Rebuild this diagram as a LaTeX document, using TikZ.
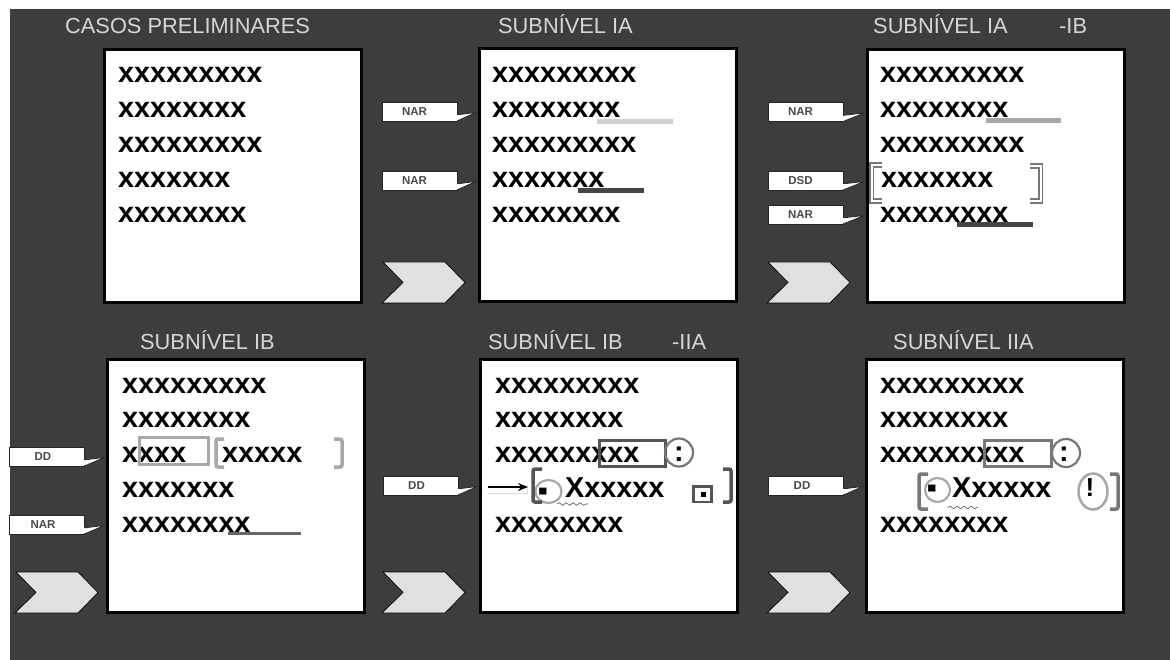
\documentclass[tikz,border=0pt]{standalone}
\usepackage{fontspec}
\setmainfont{Liberation Sans}
\usetikzlibrary{calc,decorations.pathmorphing,arrows.meta}
\definecolor{bgc}{HTML}{3D3D3D}
\definecolor{ttlc}{HTML}{D6D6D6}
\definecolor{cbord}{HTML}{262626}
\definecolor{calt}{HTML}{4A4A4A}
\definecolor{chevfill}{HTML}{E0E0E0}
\definecolor{ulA}{HTML}{D0D0D0}
\definecolor{ulB}{HTML}{A8A8A8}
\definecolor{ulD}{HTML}{454545}
\definecolor{ulM}{HTML}{666666}
\definecolor{brL}{HTML}{A8A8A8}
\definecolor{brM}{HTML}{777777}
\definecolor{brD}{HTML}{555555}
\begin{document}
\begin{tikzpicture}[x=1pt,y=-1pt,
  box/.style={draw=black, line width=3pt, fill=white, minimum width=257pt, minimum height=253pt, inner sep=0pt},
  ttl/.style={anchor=base west, inner sep=0pt, text=ttlc, font=\fontsize{21.8}{24}\selectfont},
  xt/.style={anchor=base west, inner sep=0pt, font=\bfseries\fontsize{28.8}{30}\selectfont},
  sym/.style={anchor=base, inner sep=0pt, font=\bfseries\fontsize{28.8}{30}\selectfont},
  callout/.style={draw=cbord, line width=0.8pt, fill=white, minimum width=75pt, minimum height=19pt, inner sep=0pt, text=calt, font=\bfseries\fontsize{11.5}{12}\selectfont},
  wedge/.style={draw=cbord, line width=0.8pt, fill=white, line join=miter},
  ul/.style={line width=5pt},
  brk/.style={line width=3.5pt, rounded corners=2pt},
  dbrk/.style={draw=brM, line width=1.6pt, double=white, double distance=2pt},
  chev/.pic={\draw[fill=chevfill, line width=0.7pt] (0,0) -- (62,0) -- (82,20.5) -- (62,41) -- (-1,41) -- (20,20.5) -- cycle;}
]
% canvas
\useasboundingbox (0,0) rectangle (1170,660);
\fill[white] (0,0) rectangle (1170,660);
\fill[bgc] (10,9) rectangle (1170,660);

% boxes
\node[box] (b1) at (233,176) {};
\node[box] (b2) at (607.5,175.5) {};
\node[box] (b3) at (996,176) {};
\node[box] (b4) at (236,485.5) {};
\node[box] (b5) at (609,485.5) {};
\node[box] (b6) at (994.5,486) {};

% titles
\node[ttl] (t1) at (65,34) {CASOS PRELIMINARES};
\node[ttl] (t2) at (498,34) {SUBNÍVEL IA};
\node[ttl] (t3) at (873,34) {SUBNÍVEL IA};
\node[ttl] (t3b) at (1059,34) {-IB};
\node[ttl] (t4) at (140,349) {SUBNÍVEL IB};
\node[ttl] (t5) at (488,349) {SUBNÍVEL IB};
\node[ttl] (t5b) at (672,349) {-IIA};
\node[ttl] (t6) at (893,349) {SUBNÍVEL IIA};

% panel 1
\node[xt] (p1r1) at (118,83) {xxxxxxxxx};
\node[xt] (p1r2) at (118,118) {xxxxxxxx};
\node[xt] (p1r3) at (118,153) {xxxxxxxxx};
\node[xt] (p1r4) at (118,188) {xxxxxxx};
\node[xt] (p1r5) at (118,223) {xxxxxxxx};

% panel 2
\node[xt] (p2r1) at (492,83) {xxxxxxxxx};
\node[xt] (p2r2) at (492,118) {xxxxxxxx};
\node[xt] (p2r3) at (492,153) {xxxxxxxxx};
\node[xt] (p2r4) at (492,188) {xxxxxxx};
\node[xt] (p2r5) at (492,223) {xxxxxxxx};
\draw[ul, ulA] (597,121.5) -- (673,121.5);
\draw[ul, ulD] (578,190.5) -- (644,190.5);

% panel 3
\node[xt] (p3r1) at (880,83) {xxxxxxxxx};
\node[xt] (p3r2) at (880,118) {xxxxxxxx};
\node[xt] (p3r3) at (880,153) {xxxxxxxxx};
\node[xt] (p3r4) at (881,188) {xxxxxxx};
\node[xt] (p3r5) at (880,223) {xxxxxxxx};
\draw[ul, ulB] (986,121) -- (1061,121);
\draw[ul, ulD] (957,225) -- (1033,225);
\draw[dbrk] (882,165) -- (871.5,165) -- (871.5,201) -- (882,201);
\draw[dbrk] (1030,166) -- (1040.5,166) -- (1040.5,201) -- (1030,201);

% panel 4
\node[xt] (p4r1) at (122,393) {xxxxxxxxx};
\node[xt] (p4r2) at (122,427) {xxxxxxxx};
\node[xt] (p4r3a) at (122,462) {xxxx};
\node[xt] (p4r3b) at (222,462) {xxxxx};
\node[xt] (p4r4) at (122,497) {xxxxxxx};
\node[xt] (p4r5) at (122,532) {xxxxxxxx};
\draw[brL, line width=3pt] (139.5,437.5) rectangle (208.5,464.5);
\draw[brk, brL] (224,439) -- (216,439) -- (216,467) -- (224,467);
\draw[brk, brL] (334,439) -- (342,439) -- (342,467) -- (334,467);
\draw[ulM, line width=3pt] (228,533.5) -- (301,533.5);

% panel 5
\node[xt] (p5r1) at (495,393) {xxxxxxxxx};
\node[xt] (p5r2) at (495,427) {xxxxxxxx};
\node[xt] (p5r3) at (495,462) {xxxxxxxxx};
\node[xt] (p5r4) at (565,497) {Xxxxxx};
\node[xt] (p5r5) at (495,532) {xxxxxxxx};
\draw[brD, line width=3pt] (599.5,440.5) rectangle (665.5,466.5);
\draw[brM, line width=2.2pt] (679,452.5) circle (14);
\node[sym] (p5c) at (679,461) {:};
\draw[black!15, line width=1pt] (487,493) -- (527,493) -- (527,486);
\coordinate (a5s) at (488,487);
\coordinate (a5e) at (528,487);
\draw[line width=1.4pt, -{Stealth[length=10pt,width=8pt]}] (a5s) -- (a5e);
\draw[brL, line width=2.2pt] (548.5,491.5) ellipse (13 and 11.5);
\node[sym] (p5h) at (543.5,506) {\smash{\scalebox{1}[2]{-}}};
\draw[brk, brD] (542,469) -- (533,469) -- (533,502) -- (542,502);
\draw[brk, brD] (723,469) -- (731,469) -- (731,502) -- (723,502);
\draw[brD, line width=2.5pt] (693.5,486.5) rectangle (711.5,502);
\fill[black] (701,492) rectangle (705.5,496.5);
\draw[black!55, line width=0.8pt, decorate, decoration={snake, amplitude=1.3pt, segment length=7pt}] (557,504) -- (588,504);

% panel 6
\node[xt] (p6r1) at (880,393) {xxxxxxxxx};
\node[xt] (p6r2) at (880,427) {xxxxxxxx};
\node[xt] (p6r3) at (880,462) {xxxxxxxxx};
\node[xt] (p6r4) at (952,497) {Xxxxxx};
\node[xt] (p6r5) at (880,532) {xxxxxxxx};
\draw[brM, line width=3pt] (984.5,440.5) rectangle (1051.5,466.5);
\draw[brM, line width=2.2pt] (1066,453) circle (14);
\node[sym] (p6c) at (1064,461) {:};
\draw[brL, line width=2.2pt] (937.5,490) ellipse (12.5 and 12);
\node[sym] (p6h) at (932.5,503.5) {\smash{\scalebox{1}[2]{-}}};
\draw[brk, brM] (928,474) -- (919,474) -- (919,509) -- (928,509);
\draw[brL, line width=2.5pt] (1093,491.5) ellipse (14.5 and 18);
\node[sym, font=\bfseries\fontsize{26}{28}\selectfont] (p6x) at (1090,496) {!};
\draw[brk, brM] (1110,474) -- (1118,474) -- (1118,509) -- (1110,509);
\draw[black!55, line width=0.8pt, decorate, decoration={snake, amplitude=1.3pt, segment length=7pt}] (948,507.5) -- (978,507.5);

% callouts
\node[callout] (c2a) at (419.5,111.5) {\hspace*{-10pt}NAR};
\node[callout] (c2b) at (419.5,180.5) {\hspace*{-10pt}NAR};
\node[callout] (c3a) at (805.5,112) {\hspace*{-10pt}NAR};
\node[callout] (c3b) at (805.5,180.5) {\hspace*{-10pt}DSD};
\node[callout] (c3c) at (805.5,214.5) {\hspace*{-10pt}NAR};
\node[callout] (c4a) at (47,456.5) {\hspace*{-8pt}DD};
\node[callout] (c4b) at (47,524.5) {\hspace*{-8pt}NAR};
\node[callout] (c5) at (420.5,485.5) {\hspace*{-8pt}DD};
\node[callout] (c6) at (806,485.5) {\hspace*{-8pt}DD};

\foreach \cc/\bb in {c2a/b2, c2b/b2, c3a/b3, c3b/b3, c3c/b3, c4a/b4, c4b/b4, c5/b5, c6/b6}{
  \draw[wedge] ($(\cc.south east)+(-0.4,-6.5)$) -- ($(\bb.west |- \cc.south east)+(-1.5,-9)$) -- ($(\cc.south east)+(-0.4,-0.4)$);
  \fill[white] ($(\cc.south east)+(-1.2,-6)$) rectangle ($(\cc.south east)+(0.3,-1)$);
}

% chevrons
\pic at (383,262) {chev};
\pic at (768,262) {chev};
\pic at (16,572) {chev};
\pic at (383,572) {chev};
\pic at (768,572) {chev};
\end{tikzpicture}
\end{document}
